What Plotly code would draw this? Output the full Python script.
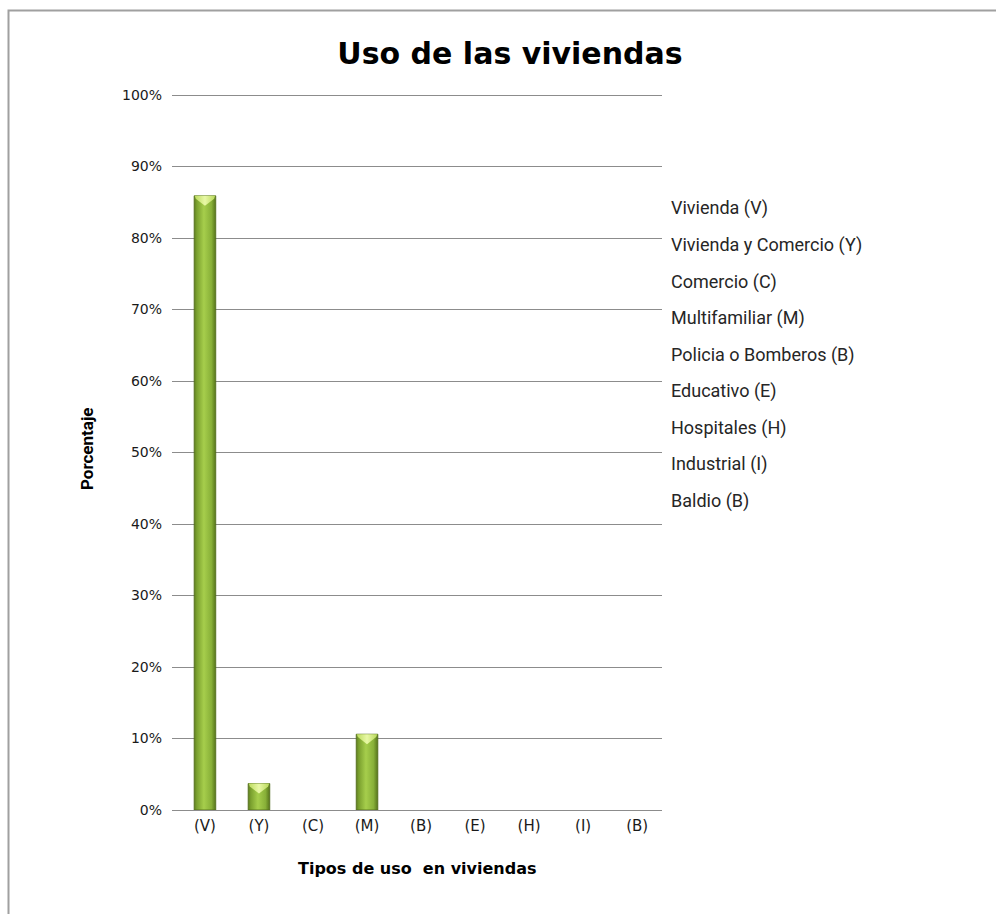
import plotly.graph_objects as go

# Housing-use categories (axis codes and the names listed beside the chart)
codes = ["(V)", "(Y)", "(C)", "(M)", "(B)", "(E)", "(H)", "(I)", "(B)"]
names = [
    "Vivienda (V)",
    "Vivienda y Comercio (Y)",
    "Comercio (C)",
    "Multifamiliar (M)",
    "Policia o Bomberos (B)",
    "Educativo (E)",
    "Hospitales (H)",
    "Industrial (I)",
    "Baldio (B)",
]
# Share of dwellings per use, in percent
values = [85.9, 3.7, 0.0, 10.6, 0.0, 0.0, 0.0, 0.0, 0.0]
# Percentage axis ticks
y_ticks = [0, 10, 20, 30, 40, 50, 60, 70, 80, 90, 100]
y_tick_text = [f"{t}%" for t in y_ticks]

W, H = 996, 914
zero_px, px_per_pct = 810, 7.15
L, R, T = 172, 334, 91
B = H - zero_px
plot_w = W - L - R
plot_h = H - T - B
y_top = (zero_px - T) / px_per_pct
x_range = [-0.61, 8.46]
bar_w = 0.40

fig = go.Figure()

body_scale = [[0.0, "#5f7e1f"], [0.12, "#7aa02e"], [0.45, "#a6ce4c"],
              [0.8, "#88b038"], [1.0, "#56741b"]]
cap_scale = [[0.0, "#bcdc5e"], [0.5, "#e8f8a6"], [1.0, "#b8d85a"]]

for i, v in enumerate(values):
    if v <= 0:
        continue
    l, r = i - bar_w / 2, i + bar_w / 2
    # bar body with a horizontal shading
    fig.add_trace(go.Scatter(
        x=[l, r, r, l, l], y=[0, 0, v, v, 0],
        mode="lines", fill="toself",
        fillgradient=dict(type="horizontal", colorscale=body_scale),
        line=dict(color="#4f6a18", width=0.8),
        hoverinfo="skip", showlegend=False,
    ))
    # bevelled top cap
    d1, d2 = 0.4, 1.4
    fig.add_trace(go.Scatter(
        x=[l + 0.01, r - 0.01, r - 0.03, i, l + 0.03, l + 0.01],
        y=[v, v, v - d1, v - d2, v - d1, v],
        mode="lines", fill="toself",
        fillgradient=dict(type="horizontal", colorscale=cap_scale),
        line=dict(color="rgba(0,0,0,0)", width=0),
        hoverinfo="skip", showlegend=False,
    ))

def py(px):
    """Paper y-coordinate for a pixel row of the page."""
    return (H - B - px) / plot_h

def pxx(px):
    """Paper x-coordinate for a pixel column of the page."""
    return (px - L) / plot_w

# category names listed to the right of the plot
for k, nm in enumerate(names):
    fig.add_annotation(
        text=nm, xref="paper", yref="paper",
        x=pxx(669), y=py(208.5 + k * 36.5),
        xanchor="left", yanchor="middle", showarrow=False,
        font=dict(family="Liberation Sans Narrow, Roboto, sans-serif",
                  size=18, color="#262626"),
    )

# axis titles
fig.add_annotation(
    text="<b>Porcentaje</b>", xref="paper", yref="paper",
    x=pxx(87), y=py(449),
    textangle=-90, showarrow=False, xanchor="center", yanchor="middle",
    font=dict(family="Liberation Sans Narrow, Roboto, sans-serif", size=17, color="#000"),
)
fig.add_annotation(
    text="<b>Tipos de uso  en viviendas</b>", xref="paper", yref="paper",
    x=pxx(417), y=py(869),
    showarrow=False, xanchor="center", yanchor="middle",
    font=dict(family="DejaVu Sans, Verdana, sans-serif", size=16, color="#000"),
)

# outer frame of the chart area
fig.add_shape(
    type="rect", xref="paper", yref="paper",
    x0=pxx(8.5), x1=pxx(1010), y0=py(930), y1=py(10.5),
    line=dict(color="#a0a0a0", width=2), fillcolor="rgba(0,0,0,0)",
    layer="below",
)

fig.update_layout(
    width=W, height=H,
    margin=dict(l=L, r=R, t=T, b=B, autoexpand=False),
    paper_bgcolor="white", plot_bgcolor="white",
    showlegend=False,
    title=dict(
        text="<b>Uso de las viviendas</b>",
        x=510 / W, xanchor="center", xref="container",
        y=1 - 53 / H, yanchor="middle", yref="container",
        font=dict(family="DejaVu Sans, Verdana, sans-serif", size=30, color="#000"),
    ),
    xaxis=dict(
        range=x_range, tickmode="array",
        tickvals=list(range(len(codes))), ticktext=codes,
        showgrid=False, zeroline=False, showline=False, ticks="",
        tickfont=dict(family="DejaVu Sans, Verdana, sans-serif", size=15, color="#1a1a1a"),
        ticklabelstandoff=5, fixedrange=True,
    ),
    yaxis=dict(
        range=[0, y_top], tickmode="array",
        tickvals=y_ticks, ticktext=y_tick_text,
        showgrid=True, gridcolor="#8c8c8c", gridwidth=1,
        zeroline=True, zerolinecolor="#8c8c8c", zerolinewidth=1,
        showline=False, ticks="",
        tickfont=dict(family="DejaVu Sans, Verdana, sans-serif", size=14, color="#1a1a1a"),
        ticklabelstandoff=9, fixedrange=True,
    ),
)

fig.write_html("out.html")
